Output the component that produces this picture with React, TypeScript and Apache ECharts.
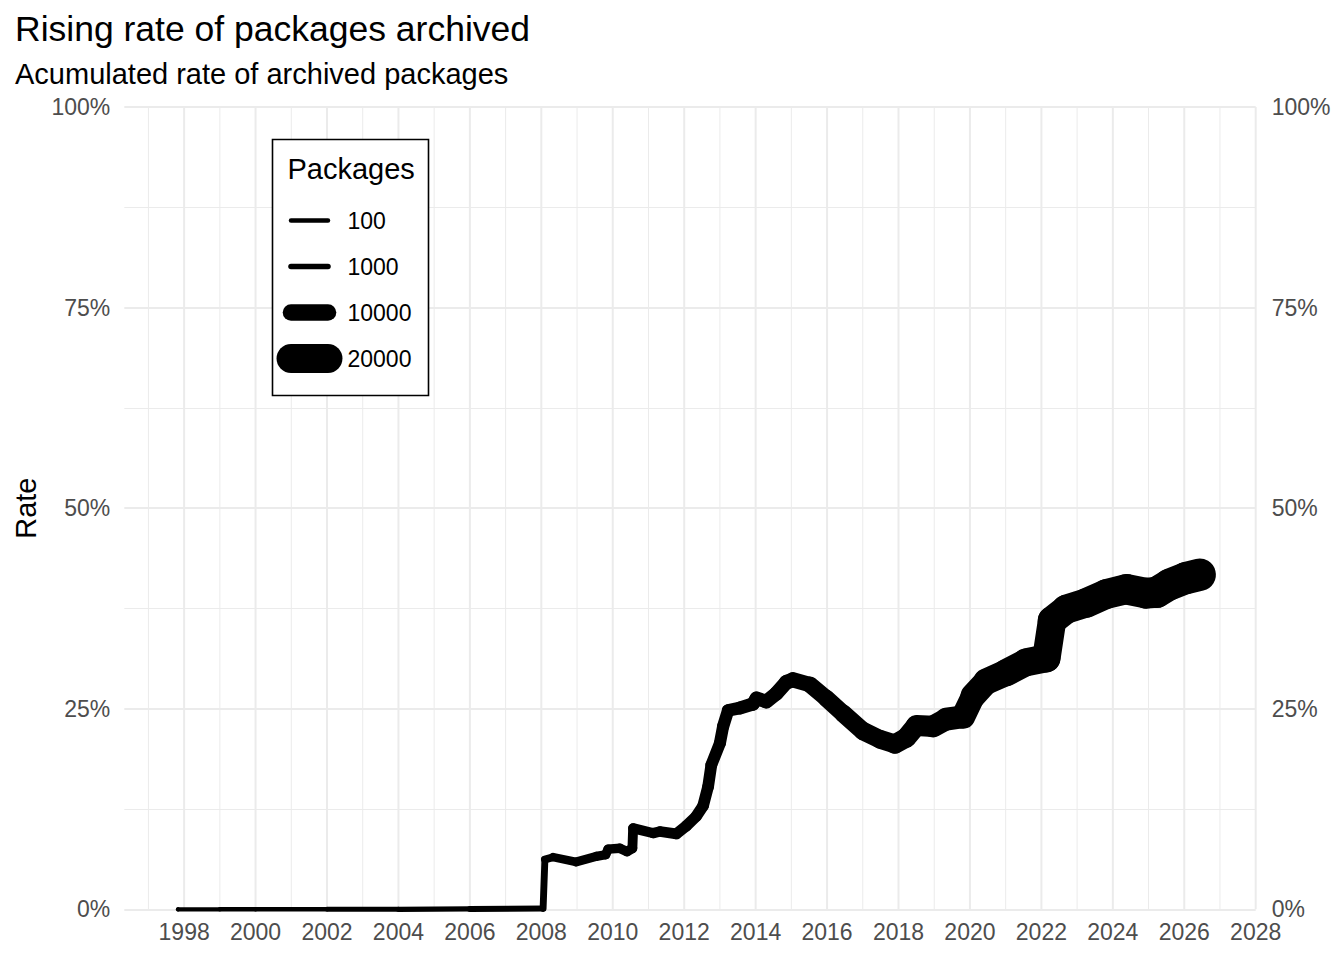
import React, { useEffect, useRef } from "react";
import * as echarts from "echarts";

const TITLE = "Rising rate of packages archived";
const SUBTITLE = "Acumulated rate of archived packages";
const Y_TITLE = "Rate";
const LEGEND_TITLE = "Packages";

// Cumulative archived rate over time (year, rate in %, number of packages)
const YEARS = [
  1997.83, 1999, 2000, 2002, 2004, 2006, 2008.05, 2008.1, 2008.33, 2008.98,
  2009.54, 2009.8, 2009.87, 2010.2, 2010.4, 2010.55, 2010.57, 2011.13, 2011.32, 2011.78,
  2012.06, 2012.34, 2012.53, 2012.67, 2012.76, 2013.0, 2013.09, 2013.23, 2013.56, 2013.93,
  2014.02, 2014.3, 2014.58, 2014.86, 2015.05, 2015.52, 2015.98, 2016.45, 2017.01, 2017.48,
  2017.9, 2018.22, 2018.5, 2018.97, 2019.34, 2019.81, 2020.09, 2020.46, 2021.02, 2021.58,
  2022.14, 2022.3, 2022.7, 2023.26, 2023.82, 2024.38, 2024.94, 2025.22, 2025.6, 2026.06,
  2026.43,
];
const RATES = [
  0, 0, 0, 0, 0, 0.05, 0.1, 6.2, 6.5, 5.9,
  6.6, 6.8, 7.5, 7.6, 7.2, 7.6, 10.1, 9.5, 9.7, 9.4,
  10.4, 11.6, 12.9, 15.3, 18.0, 20.7, 22.8, 24.8, 25.1, 25.6,
  26.3, 25.9, 26.9, 28.3, 28.6, 28.0, 26.3, 24.4, 22.2, 21.2,
  20.6, 21.4, 22.9, 22.8, 23.7, 24.0, 26.6, 28.4, 29.5, 30.8,
  31.3, 36.0, 37.4, 38.2, 39.3, 39.9, 39.4, 39.5, 40.5, 41.3,
  41.7,
];
const PACKAGES = [
  10, 50, 100, 300, 600, 1000, 1700, 2500, 3200, 3700,
  4000, 4100, 4150, 4300, 4400, 4500, 4500, 4900, 5000, 5300,
  5500, 5700, 5900, 6000, 6100, 6300, 6400, 6600, 7000, 7400,
  7500, 7800, 8100, 8500, 8700, 9500, 10300, 10800, 11300, 11700,
  12200, 12700, 13200, 14000, 14700, 15500, 16700, 17400, 18400, 19000,
  19500, 19700, 20000, 20400, 20800, 21100, 21500, 21800, 22200, 22700,
  23200,
];

const X_MIN = 1996.325;
const X_MAX = 2028;
const X_TICKS = [1998, 2000, 2002, 2004, 2006, 2008, 2010, 2012, 2014, 2016, 2018, 2020, 2022, 2024, 2026, 2028];
const X_MINOR = [1997, 1999, 2001, 2003, 2005, 2007, 2009, 2011, 2013, 2015, 2017, 2019, 2021, 2023, 2025, 2027];
const Y_MIN = 0;
const Y_MAX = 1;
const Y_INTERVAL = 0.25;
const LEGEND_BREAKS = [100, 1000, 10000, 20000];

const FONT = "'Liberation Sans', Arial, Helvetica, sans-serif";
const GRID_COLOR = "#ebebeb";
const AXIS_TEXT = "#4d4d4d";
const MAJOR_W = 2;
const MINOR_W = 1;

const widthFor = (n: number) => 4.3 + 0.00123 * n;
const pct = (v: number) => `${Math.round(v * 100)}%`;

function gridSeries(years: number[], lineWidth: number) {
  return {
    type: "custom",
    coordinateSystem: "cartesian2d",
    silent: true,
    z: 1,
    data: years.map((y) => [y, 0]),
    encode: { x: 0, y: 1 },
    renderItem: (_params: any, api: any) => {
      const x = api.value(0);
      const p0 = api.coord([x, Y_MIN]);
      const p1 = api.coord([x, Y_MAX]);
      return {
        type: "line",
        shape: { x1: p0[0], y1: p0[1], x2: p1[0], y2: p1[1] },
        style: { stroke: GRID_COLOR, lineWidth },
      };
    },
  };
}

export default function App() {
  const ref = useRef<HTMLDivElement>(null);

  useEffect(() => {
    if (!ref.current) return;
    const chart = echarts.init(ref.current, undefined, { renderer: "svg" });

    const lineData = YEARS.map((y, i) => [y, RATES[i] / 100, PACKAGES[i]]);

    const legendLeft = 272.5;
    const legendTop = 139.5;
    const legendChildren: any[] = [
      {
        type: "rect",
        z: 100,
        shape: { x: legendLeft, y: legendTop, width: 156, height: 256 },
        style: { fill: "#ffffff", stroke: "#000000", lineWidth: 1.6 },
      },
      {
        type: "text",
        z: 101,
        x: legendLeft + 15,
        y: legendTop + 29,
        style: {
          text: LEGEND_TITLE,
          fill: "#000000",
          fontSize: 29,
          fontFamily: FONT,
          align: "left",
          verticalAlign: "middle",
        },
      },
    ];
    LEGEND_BREAKS.forEach((b, i) => {
      const cy = legendTop + 81 + i * 46;
      legendChildren.push({
        type: "line",
        z: 101,
        shape: { x1: legendLeft + 18.5, y1: cy, x2: legendLeft + 55.5, y2: cy },
        style: { stroke: "#000000", lineWidth: widthFor(b), lineCap: "round" },
      });
      legendChildren.push({
        type: "text",
        z: 101,
        x: legendLeft + 75,
        y: cy,
        style: {
          text: String(b),
          fill: "#000000",
          fontSize: 23,
          fontFamily: FONT,
          align: "left",
          verticalAlign: "middle",
        },
      });
    });

    const yAxisBase = {
      type: "value",
      min: Y_MIN,
      max: Y_MAX,
      interval: Y_INTERVAL,
      axisLine: { show: false },
      axisTick: { show: false },
    };

    chart.setOption({
      animation: false,
      backgroundColor: "#ffffff",
      title: [
        {
          text: TITLE,
          left: 15,
          top: 11,
          padding: 0,
          textStyle: { fontSize: 35.5, fontWeight: "normal", color: "#000000", fontFamily: FONT },
        },
        {
          text: SUBTITLE,
          left: 15,
          top: 59.5,
          padding: 0,
          textStyle: { fontSize: 29, fontWeight: "normal", color: "#000000", fontFamily: FONT },
        },
      ],
      grid: {
        left: 124.3,
        right: 88.3,
        top: 107,
        bottom: 50.7,
        containLabel: false,
        outerBoundsMode: "none",
      },
      xAxis: {
        type: "value",
        min: X_MIN,
        max: X_MAX,
        axisLine: { show: false },
        axisTick: { show: false, customValues: X_TICKS },
        splitLine: { show: false },
        axisLabel: {
          customValues: X_TICKS,
          formatter: (v: number) => String(v),
          fontSize: 23,
          color: AXIS_TEXT,
          fontFamily: FONT,
          margin: 11,
          showMinLabel: true,
          showMaxLabel: true,
        },
      },
      yAxis: [
        {
          ...yAxisBase,
          position: "left",
          name: Y_TITLE,
          nameLocation: "middle",
          nameGap: 83,
          nameTextStyle: { fontSize: 29, color: "#000000", fontFamily: FONT },
          axisLabel: { formatter: pct, fontSize: 23, color: AXIS_TEXT, fontFamily: FONT, margin: 14 },
          splitLine: { show: true, lineStyle: { color: GRID_COLOR, width: MAJOR_W } },
          minorTick: { show: false, splitNumber: 2 },
          minorSplitLine: { show: true, lineStyle: { color: GRID_COLOR, width: MINOR_W } },
        },
        {
          ...yAxisBase,
          position: "right",
          axisLabel: { formatter: pct, fontSize: 23, color: AXIS_TEXT, fontFamily: FONT, margin: 16 },
          splitLine: { show: false },
        },
      ],
      series: [
        gridSeries(X_MINOR, MINOR_W),
        gridSeries(X_TICKS, MAJOR_W),
        {
          type: "custom",
          name: "Rate",
          coordinateSystem: "cartesian2d",
          silent: true,
          z: 5,
          clip: false,
          data: lineData,
          encode: { x: 0, y: 1 },
          renderItem: (params: any, api: any) => {
            const i = params.dataIndex;
            const cur = api.coord([api.value(0), api.value(1)]);
            if (i === 0) {
              return {
                type: "circle",
                shape: { cx: cur[0], cy: cur[1], r: widthFor(PACKAGES[0]) / 2 },
                style: { fill: "#000000" },
              };
            }
            const prev = api.coord([YEARS[i - 1], RATES[i - 1] / 100]);
            const w = widthFor((PACKAGES[i - 1] + PACKAGES[i]) / 2);
            return {
              type: "line",
              shape: { x1: prev[0], y1: prev[1], x2: cur[0], y2: cur[1] },
              style: { stroke: "#000000", lineWidth: w, lineCap: "round" },
            };
          },
        },
      ],
      graphic: { elements: legendChildren },
    });

    return () => chart.dispose();
  }, []);

  return (
    <div
      ref={ref}
      style={{ position: "fixed", left: 0, top: 0, width: 1344, height: 960, background: "#ffffff" }}
    />
  );
}
